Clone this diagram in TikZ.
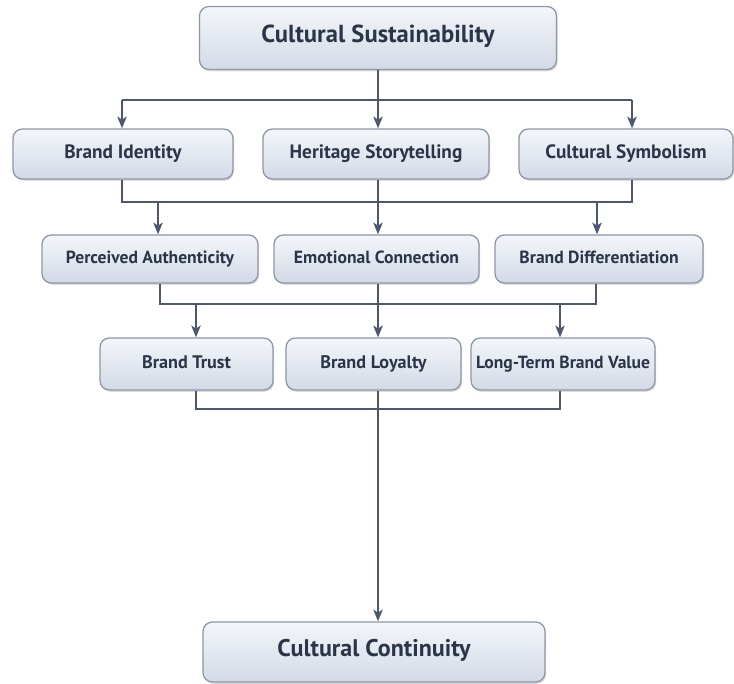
\documentclass[tikz,border=0pt]{standalone}
\usepackage{fontspec}
\setmainfont{PT Sans}
\usetikzlibrary{arrows.meta,shadows}
\definecolor{boxline}{HTML}{8E97A8}
\definecolor{boxtop}{HTML}{F3F6FA}
\definecolor{boxbot}{HTML}{D3DAE6}
\definecolor{ink}{HTML}{2B3548}
\definecolor{wire}{HTML}{4D5870}
\newcommand\pxu{0.03cm}

\begin{document}
\begin{tikzpicture}[x=0.03cm,y=-0.03cm,
  box/.style={rectangle,draw=boxline,line width=1.1pt,rounded corners=8pt,
    top color=boxtop,bottom color=boxbot,text=ink,inner sep=0pt,
    text height=0.7em,text depth=0pt,
    drop shadow={shadow xshift=1pt,shadow yshift=-1.5pt,opacity=0.2,fill=black!70}},
  big/.style={box,font=\bfseries\fontsize{21}{25}\selectfont},
  mid/.style={box,font=\bfseries\fontsize{16.5}{20}\selectfont},
  low/.style={box,font=\bfseries\fontsize{15}{18}\selectfont},
  line/.style={draw=wire,line width=1.5pt},
  flow/.style={line,-{Stealth[length=10pt,width=8pt,inset=2.5pt]}}]
 \fill[white] (0,0) rectangle (734,684);
 \useasboundingbox (0,0) rectangle (734,684);

 % boxes, top to bottom
 \node (top) [big,minimum width=357*\pxu,minimum height=63*\pxu] at (378,38) {Cultural Sustainability};

 \node (BI) [mid,minimum width=220*\pxu,minimum height=50*\pxu] at (123,154) {Brand Identity};
 \node (HS) [mid,minimum width=226*\pxu,minimum height=50*\pxu] at (376,154) {Heritage Storytelling};
 \node (CS) [mid,minimum width=214*\pxu,minimum height=50*\pxu] at (626,154) {Cultural Symbolism};

 \node (PA) [low,minimum width=216*\pxu,minimum height=48*\pxu] at (150,259) {Perceived Authenticity};
 \node (EC) [low,minimum width=205*\pxu,minimum height=48*\pxu] at (376.5,259) {Emotional Connection};
 \node (BD) [low,minimum width=208*\pxu,minimum height=48*\pxu] at (599,259) {Brand Differentiation};

 \node (BT) [low,font=\bfseries\fontsize{15.5}{18}\selectfont,minimum width=173*\pxu,minimum height=52*\pxu] at (186.5,364) {Brand Trust};
 \node (BL) [low,font=\bfseries\fontsize{15.5}{18}\selectfont,minimum width=175*\pxu,minimum height=52*\pxu] at (373.5,364) {Brand Loyalty};
 \node (LT) [low,minimum width=184*\pxu,minimum height=52*\pxu] at (563,364) {Long-Term Brand Value};

 \node (CC) [big,font=\bfseries\fontsize{20.5}{25}\selectfont,minimum width=342*\pxu,minimum height=60*\pxu] at (374,652) {Cultural Continuity};

 % bus points
 \coordinate (s1) at (378,100);
 \coordinate (s1w) at (122,100);
 \coordinate (s1e) at (632,100);
 \coordinate (s2w) at (122,202);
 \coordinate (s2e) at (632,202);
 \coordinate (s2a) at (158,202);
 \coordinate (s2b) at (378,202);
 \coordinate (s2c) at (597,202);
 \coordinate (s3w) at (160,304);
 \coordinate (s3e) at (596,304);
 \coordinate (s3a) at (196,304);
 \coordinate (s3b) at (378,304);
 \coordinate (s3c) at (560,304);
 \coordinate (s4w) at (196,409);
 \coordinate (s4e) at (560,409);
 \coordinate (s4b) at (378,409);

 % top -> second row
 \draw[line] (top.south) -- (s1);
 \draw[line] (s1w) -- (s1e);
 \draw[flow] (s1w) -- (BI.north -| s1w);
 \draw[flow] (s1) -- (HS.north -| s1);
 \draw[flow] (s1e) -- (CS.north -| s1e);

 % second row -> third row
 \draw[line] (BI.south -| s2w) -- (s2w) -- (s2e) -- (CS.south -| s2e);
 \draw[flow] (HS.south -| s2b) -- (EC.north -| s2b);
 \draw[flow] (s2a) -- (PA.north -| s2a);
 \draw[flow] (s2c) -- (BD.north -| s2c);

 % third row -> fourth row
 \draw[line] (PA.south -| s3w) -- (s3w) -- (s3e) -- (BD.south -| s3e);
 \draw[flow] (EC.south -| s3b) -- (BL.north -| s3b);
 \draw[flow] (s3a) -- (BT.north -| s3a);
 \draw[flow] (s3c) -- (LT.north -| s3c);

 % fourth row -> continuity
 \draw[line] (BT.south -| s4w) -- (s4w) -- (s4e) -- (LT.south -| s4e);
 \draw[flow] (BL.south -| s4b) -- (CC.north -| s4b);
\end{tikzpicture}
\end{document}
